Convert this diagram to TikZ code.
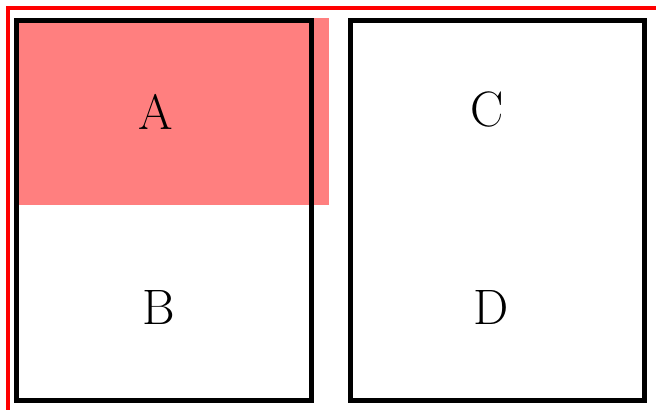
\documentclass[tikz,border=0pt]{standalone}
\begin{document}
\begin{tikzpicture}[x=0.5pt,y=-0.5pt,
  panel/.style={draw=black,line width=2.5pt},
  letter/.style={inner sep=0pt,font=\fontsize{24.88}{30}\selectfont}]
\useasboundingbox (0,0) rectangle (656,410);
\clip (0,0) rectangle (656,410);
% outer red frame (runs off right and bottom)
\draw[red,line width=1.6pt] (8,8) rectangle (670,420);
% translucent highlight
\fill[red,opacity=0.5] (14,18.3) rectangle (329.3,205);
% panels
\draw[panel] (16.5,20.7) rectangle (311.5,400.6);
\draw[panel] (350,20.7) rectangle (644.7,400.8);
% labels
\node[letter] (A) at (156,111.7) {A};
\node[letter] (B) at (158.5,308) {B};
\node[letter] (C) at (487.5,110) {C};
\node[letter] (D) at (491.5,307.2) {D};
\end{tikzpicture}
\end{document}
